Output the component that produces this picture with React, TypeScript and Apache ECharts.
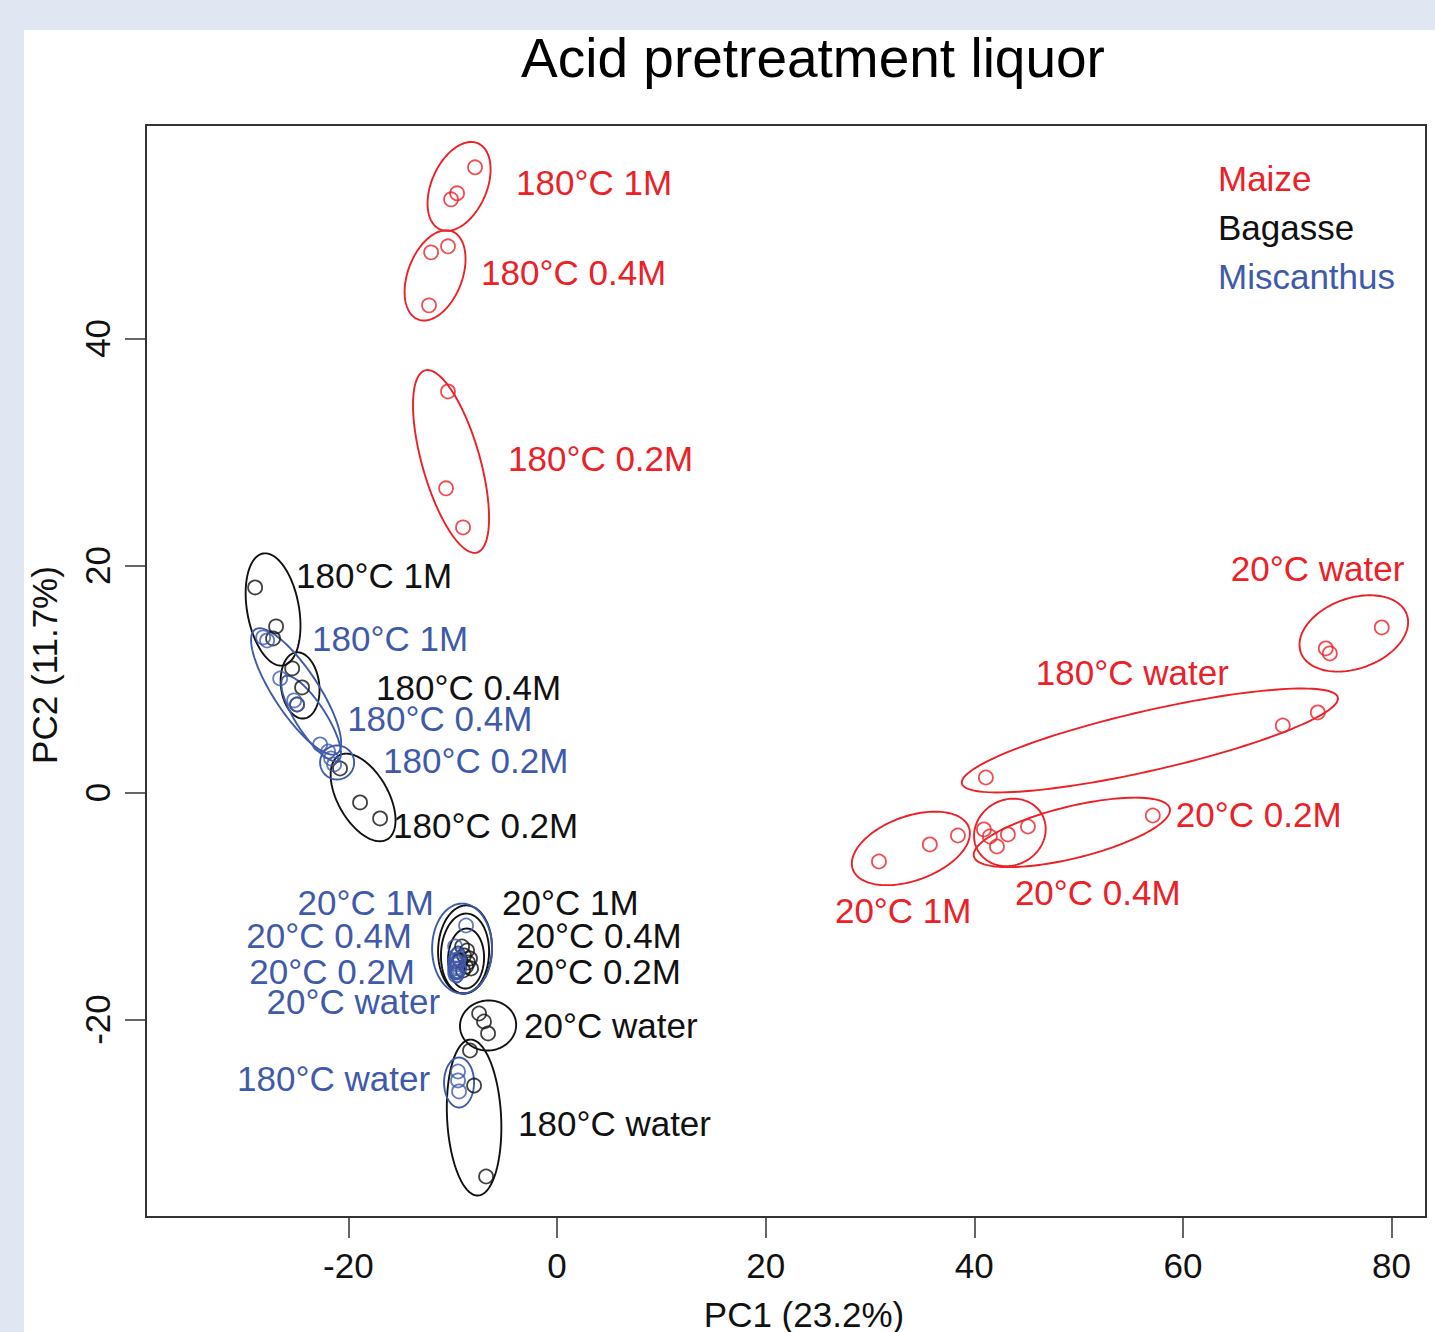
import React, { useEffect, useRef } from "react";
import * as echarts from "echarts";

const FONT = '"Liberation Sans", Arial, sans-serif';

const xTicks = [-20, 0, 20, 40, 60, 80];
const yTicks = [-20, 0, 20, 40];
const xMin = -39.4;
const xMax = 83.3;
const yMin = -37.4;
const yMax = 58.8;

const titleText = "Acid pretreatment liquor";
const xName = "PC1 (23.2%)";
const yName = "PC2 (11.7%)";

const speciesNames = ["Maize", "Bagasse", "Miscanthus"];
const speciesColors = ["#ec2027", "#111111", "#3f5aaa"];

// sample scores [PC1, PC2]
const maizePoints = [
  [-7.86, 55.07], [-9.58, 52.78], [-10.16, 52.25],
  [-12.07, 47.58], [-10.45, 48.11], [-12.27, 42.91],
  [-10.45, 35.33], [-10.64, 26.79], [-9.01, 23.35],
  [73.69, 12.69], [74.08, 12.25], [79.06, 14.54],
  [41.11, 1.32], [69.57, 5.9], [72.93, 7.05],
  [30.86, -6.08], [35.74, -4.58], [38.43, -3.79],
  [40.92, -3.26], [42.17, -4.76], [43.22, -3.7],
  [41.49, -3.88], [45.14, -3.0], [57.11, -2.03],
];
const bagassePoints = [
  [-28.94, 18.06], [-26.93, 14.63], [-27.22, 13.57],
  [-25.39, 10.93], [-24.44, 9.25], [-24.92, 7.75],
  [-20.8, 2.11], [-18.88, -0.88], [-16.96, -2.29],
  [-9.1, -13.57], [-8.62, -13.92], [-8.34, -14.63],
  [-8.91, -14.36], [-8.53, -14.98], [-8.24, -15.51],
  [-9.3, -14.8], [-8.72, -15.33], [-9.01, -15.68],
  [-7.47, -19.47], [-7.0, -20.18], [-6.61, -21.23],
  [-8.34, -22.73], [-7.95, -25.82], [-6.8, -33.83],
];
const miscanthusPoints = [
  [-28.17, 13.66], [-27.79, 13.39], [-26.54, 10.04],
  [-25.2, 8.11], [-24.92, 7.75], [-22.71, 4.23],
  [-21.94, 3.61], [-21.66, 3.0], [-21.37, 2.47],
  [-8.72, -11.72], [-9.77, -13.57], [-9.58, -14.36],
  [-9.77, -14.8], [-9.58, -15.15], [-9.39, -15.51],
  [-9.77, -15.51], [-9.58, -15.86], [-9.39, -14.63],
  [-9.68, -16.12], [-9.49, -14.98], [-9.77, -15.86],
  [-9.49, -24.58], [-9.49, -25.37], [-9.39, -26.34],
];

// group ellipses: [centre PC1, centre PC2, major semi-axis dPC1, dPC2, minor/major ratio]
const maizeEllipses = [
  [-9.39, 53.39, 1.82, 3.79, 0.585],
  [-11.69, 45.55, 1.63, 3.88, 0.574],
  [-10.16, 29.16, -2.49, 8.02, 0.305],
  [76.38, 14.01, 5.08, 1.67, 0.625],
  [56.83, 4.58, 18.02, 3.79, 0.155],
  [33.92, -4.93, 5.56, 1.85, 0.52],
  [43.41, -3.52, 3.07, 1.59, 0.89],
  [49.35, -3.52, 9.39, 2.11, 0.257],
];
const bagasseEllipses = [
  [-27.22, 16.12, -0.96, 4.93, 0.456],
  [-24.63, 9.43, -0.38, 2.91, 0.576],
  [-18.59, -0.44, -2.3, 3.7, 0.52],
  [-8.82, -13.83, 0.19, 3.88, 0.61],
  [-8.82, -14.19, 0.19, 3.52, 0.6],
  [-8.72, -14.63, 0.1, 2.64, 0.6],
  [-6.61, -20.53, 2.68, 0.26, 0.89],
  [-7.95, -28.64, -0.38, 6.87, 0.346],
];
const miscanthusEllipses = [
  [-25.01, 8.9, -3.93, 5.46, 0.3],
  [-23.57, 6.52, -2.59, 3.7, 0.3],
  [-21.08, 2.64, 1.63, 0, 1.0],
  [-9.1, -13.75, 0, 3.96, 0.667],
  [-9.49, -14.98, 0, 1.41, 0.55],
  [-9.58, -15.33, 0, 1.06, 0.6],
  [-9.58, -15.51, 0, 1.23, 0.5],
  [-9.39, -25.55, 0, 2.2, 0.6],
];

// group labels: [text, PC1, PC2, align]
const maizeLabels = [
  ["180°C 1M", -3.93, 53.75, "left"],
  ["180°C 0.4M", -7.28, 45.82, "left"],
  ["180°C 0.2M", -4.7, 29.43, "left"],
  ["20°C water", 64.59, 19.74, "left"],
  ["180°C water", 45.9, 10.57, "left"],
  ["20°C 0.2M", 59.32, -1.94, "left"],
  ["20°C 0.4M", 43.89, -8.81, "left"],
  ["20°C 1M", 26.64, -10.4, "left"],
];
const bagasseLabels = [
  ["180°C 1M", -25.01, 19.12, "left"],
  ["180°C 0.4M", -17.35, 9.25, "left"],
  ["180°C 0.2M", -15.72, -2.91, "left"],
  ["20°C 1M", -5.27, -9.69, "left"],
  ["20°C 0.4M", -3.93, -12.6, "left"],
  ["20°C 0.2M", -4.02, -15.77, "left"],
  ["20°C water", -3.16, -20.53, "left"],
  ["180°C water", -3.74, -29.16, "left"],
];
const miscanthusLabels = [
  ["180°C 1M", -23.48, 13.57, "left"],
  ["180°C 0.4M", -20.12, 6.52, "left"],
  ["180°C 0.2M", -16.67, 2.82, "left"],
  ["20°C 1M", -11.79, -9.69, "right"],
  ["20°C 0.4M", -13.9, -12.6, "right"],
  ["20°C 0.2M", -13.61, -15.77, "right"],
  ["20°C water", -11.21, -18.41, "right"],
  ["180°C water", -12.17, -25.2, "right"],
];

const pointSets = [maizePoints, bagassePoints, miscanthusPoints];
const ellipseSets = [maizeEllipses, bagasseEllipses, miscanthusEllipses];
const labelSets = [maizeLabels, bagasseLabels, miscanthusLabels];

function buildOption() {
  const series: any[] = [];
  for (let s = 0; s < 3; s++) {
    const color = speciesColors[s];
    const ell = ellipseSets[s];
    const labs = labelSets[s];
    series.push({
      type: "custom",
      name: speciesNames[s] + " ellipses",
      coordinateSystem: "cartesian2d",
      data: ell,
      silent: true,
      renderItem: (params: any, api: any) => {
        const cx = api.value(0);
        const cy = api.value(1);
        const c = api.coord([cx, cy]);
        const e = api.coord([cx + api.value(2), cy + api.value(3)]);
        const ux = e[0] - c[0];
        const uy = e[1] - c[1];
        const r = api.value(4);
        const vx = -uy * r;
        const vy = ux * r;
        const pts: number[][] = [];
        const n = 140;
        for (let i = 0; i <= n; i++) {
          const t = (i / n) * Math.PI * 2;
          pts.push([
            c[0] + Math.cos(t) * ux + Math.sin(t) * vx,
            c[1] + Math.cos(t) * uy + Math.sin(t) * vy,
          ]);
        }
        return {
          type: "polyline",
          shape: { points: pts },
          style: { fill: "none", stroke: color, lineWidth: 1.9 },
        };
      },
    });
    series.push({
      type: "scatter",
      name: speciesNames[s],
      data: pointSets[s],
      symbol: "circle",
      symbolSize: 14,
      silent: true,
      itemStyle: { color: "rgba(0,0,0,0)", borderColor: color, borderWidth: 1.8 },
    });
    series.push({
      type: "custom",
      name: speciesNames[s] + " labels",
      coordinateSystem: "cartesian2d",
      data: labs.map((l) => [l[1], l[2]]),
      silent: true,
      renderItem: (params: any, api: any) => {
        const p = api.coord([api.value(0), api.value(1)]);
        const lab = labs[params.dataIndex];
        return {
          type: "text",
          x: p[0],
          y: p[1],
          style: {
            text: lab[0],
            fill: color,
            font: `35px ${FONT}`,
            textAlign: lab[3],
            align: lab[3],
            textVerticalAlign: "middle",
            verticalAlign: "middle",
          },
        };
      },
    });
  }

  const graphic: any[] = [
    {
      type: "text",
      x: 813,
      y: 58,
      style: {
        text: titleText,
        fill: "#000",
        font: `55px ${FONT}`,
        textAlign: "center",
        textVerticalAlign: "middle",
      },
    },
    {
      type: "text",
      x: 804,
      y: 1314,
      style: {
        text: xName,
        fill: "#111",
        font: `35px ${FONT}`,
        textAlign: "center",
        textVerticalAlign: "middle",
      },
    },
    {
      type: "text",
      x: 44,
      y: 665,
      rotation: Math.PI / 2,
      style: {
        text: yName,
        fill: "#111",
        font: `35px ${FONT}`,
        textAlign: "center",
        textVerticalAlign: "middle",
      },
    },
  ];
  speciesNames.forEach((nm, i) => {
    graphic.push({
      type: "text",
      x: 1218,
      y: 178 + i * 49,
      style: {
        text: nm,
        fill: speciesColors[i],
        font: `35px ${FONT}`,
        textAlign: "left",
        textVerticalAlign: "middle",
      },
    });
  });

  return {
    animation: false,
    backgroundColor: "transparent",
    grid: {
      left: 146,
      top: 125,
      width: 1280,
      height: 1092,
      show: true,
      borderColor: "#333",
      borderWidth: 2,
      backgroundColor: "transparent",
      containLabel: false,
    },
    xAxis: {
      type: "value",
      min: xMin,
      max: xMax,
      position: "bottom",
      axisLine: { show: false, onZero: false },
      splitLine: { show: false },
      axisTick: {
        show: true,
        customValues: xTicks,
        length: 21,
        lineStyle: { color: "#333", width: 1.5 },
      },
      axisLabel: {
        customValues: xTicks,
        color: "#111",
        fontSize: 35,
        fontFamily: FONT,
        margin: 31,
      },
    },
    yAxis: {
      type: "value",
      min: yMin,
      max: yMax,
      position: "left",
      axisLine: { show: false, onZero: false },
      splitLine: { show: false },
      axisTick: {
        show: true,
        customValues: yTicks,
        length: 21,
        lineStyle: { color: "#333", width: 1.5 },
      },
      axisLabel: {
        customValues: yTicks,
        color: "#111",
        fontSize: 35,
        fontFamily: FONT,
        margin: 31,
        rotate: 90,
      },
    },
    graphic,
    series,
  };
}

export default function App() {
  const ref = useRef<HTMLDivElement>(null);
  useEffect(() => {
    if (!ref.current) return;
    const chart = echarts.init(ref.current, undefined, { renderer: "svg" });
    chart.setOption(buildOption() as any);
    return () => chart.dispose();
  }, []);
  return (
    <div
      style={{
        position: "fixed",
        left: 0,
        top: 0,
        width: 1435,
        height: 1332,
        background: "#e0e7f3",
        overflow: "hidden",
      }}
    >
      <div
        style={{
          position: "absolute",
          left: 24,
          top: 30,
          width: 1411,
          height: 1302,
          background: "#ffffff",
        }}
      />
      <div
        ref={ref}
        style={{ position: "absolute", left: 0, top: 0, width: 1435, height: 1332 }}
      />
    </div>
  );
}
